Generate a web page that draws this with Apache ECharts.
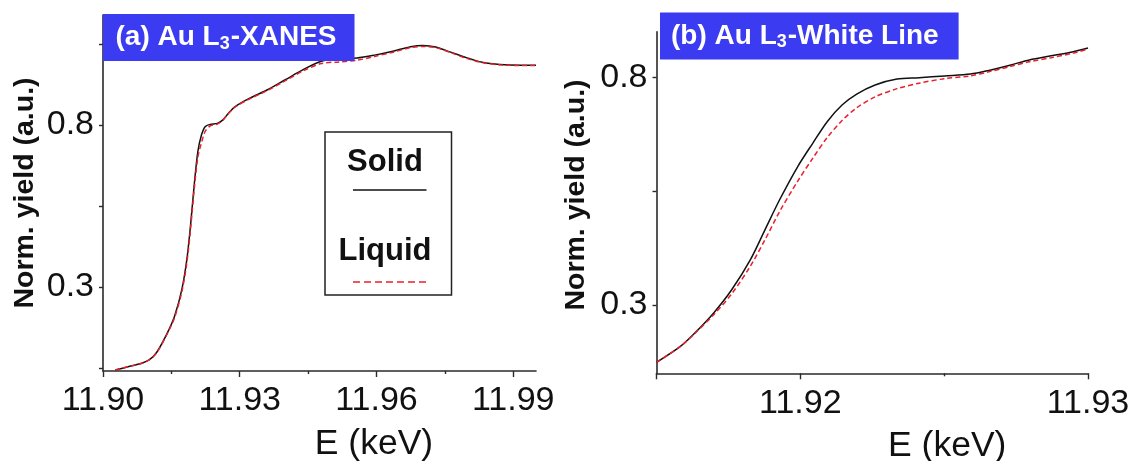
<!DOCTYPE html>
<html>
<head>
<meta charset="utf-8">
<script src="https://cdn.jsdelivr.net/npm/echarts@6/dist/echarts.min.js"></script>
<style>
html,body{margin:0;padding:0;background:#fff;}
#chart{width:1135px;height:461px;}
</style>
</head>
<body>
<div id="chart"></div>
<script>
// ---------- Panel (a): Au L3-XANES ----------
const energyA = [11.9027, 11.9055, 11.9085, 11.9102, 11.9118, 11.9141, 11.9157, 11.9173, 11.9184, 11.9192, 11.9200, 11.9208, 11.9216, 11.9224, 11.9235, 11.9251, 11.9263, 11.9275, 11.9290, 11.9322, 11.9361, 11.9400, 11.9439, 11.9479, 11.9518, 11.9557, 11.9596, 11.9636, 11.9675, 11.9702, 11.9730, 11.9761, 11.9793, 11.9832, 11.9871, 11.9918, 11.9950];
const solidA  = [0.043, 0.053, 0.064, 0.075, 0.098, 0.157, 0.209, 0.292, 0.385, 0.489, 0.613, 0.717, 0.769, 0.795, 0.802, 0.805, 0.816, 0.836, 0.857, 0.883, 0.909, 0.940, 0.971, 0.997, 1.005, 1.007, 1.016, 1.028, 1.042, 1.046, 1.041, 1.026, 1.010, 0.994, 0.987, 0.985, 0.985];
const liquidA = [0.043, 0.053, 0.064, 0.075, 0.097, 0.155, 0.205, 0.285, 0.375, 0.478, 0.600, 0.700, 0.745, 0.780, 0.797, 0.803, 0.815, 0.835, 0.856, 0.881, 0.907, 0.937, 0.967, 0.990, 0.995, 1.000, 1.012, 1.025, 1.039, 1.043, 1.039, 1.025, 1.008, 0.993, 0.986, 0.984, 0.984];

// ---------- Panel (b): Au L3-White Line ----------
const energyB = [11.91500, 11.91583, 11.91634, 11.91698, 11.91762, 11.91826, 11.91877, 11.91928, 11.91991, 11.92043, 11.92094, 11.92145, 11.92196, 11.92260, 11.92336, 11.92413, 11.92502, 11.92591, 11.92655, 11.92732, 11.92796, 11.92872, 11.92949, 11.93000];
const solidB  = [0.174, 0.209, 0.239, 0.282, 0.334, 0.399, 0.465, 0.531, 0.604, 0.655, 0.703, 0.739, 0.763, 0.783, 0.796, 0.799, 0.803, 0.807, 0.815, 0.827, 0.838, 0.847, 0.856, 0.864];
const liquidB = [0.174, 0.209, 0.238, 0.278, 0.325, 0.385, 0.443, 0.505, 0.572, 0.622, 0.668, 0.705, 0.733, 0.757, 0.775, 0.787, 0.797, 0.803, 0.812, 0.824, 0.834, 0.843, 0.853, 0.862];

// ---------- Ticks ----------
const xTicksMajorA = [11.90, 11.93, 11.96, 11.99];
const xTicksMinorA = [11.915, 11.945, 11.975];
const yTicksA = [0.05, 0.3, 0.55, 0.8, 1.05];
const yLabelsA = [0.3, 0.8];
const xTicksMajorB = [11.915, 11.92, 11.93];
const xLabelsB = [11.92, 11.93];
const xTicksMinorB = [11.925];
const yTicksB = [0.3, 0.55, 0.8];
const yLabelsB = [0.3, 0.8];

const seriesNames = ['Solid', 'Liquid'];
const titles = ['(a) Au L{s|3}-XANES', '(b) Au L{s|3}-White Line'];

const FONT = '"Liberation Sans", Arial, Helvetica, sans-serif';
const AXIS_COLOR = '#2a2a2a';
const BLUE = '#3b3bf2';
const RED = '#e8202c';

const pairs = (xs, ys) => xs.map((x, i) => [x, ys[i]]);

const axisLine = { show: true, onZero: false, lineStyle: { color: AXIS_COLOR, width: 1.6 } };

function majorX(grid, min, max, ticks, labels, padLeft) {
  return {
    type: 'value', gridIndex: grid, min: min, max: max, position: 'bottom',
    axisLine: axisLine,
    axisTick: { show: true, customValues: ticks, length: 6, lineStyle: { color: AXIS_COLOR, width: 1.4 } },
    axisLabel: { customValues: labels, formatter: v => v.toFixed(2), fontSize: 34, color: '#111', fontFamily: FONT, margin: 13 },
    splitLine: { show: false },
    name: 'E (keV)', nameLocation: 'middle', nameGap: 55,
    nameTextStyle: { fontSize: 35.5, color: '#111', fontFamily: FONT, padding: [0, 0, 0, padLeft] }
  };
}
function minorX(grid, min, max, ticks) {
  return {
    type: 'value', gridIndex: grid, min: min, max: max, position: 'bottom', offset: 0,
    axisLine: { show: false },
    axisTick: { show: true, customValues: ticks, length: 3, lineStyle: { color: AXIS_COLOR, width: 1.4 } },
    axisLabel: { show: false }, splitLine: { show: false }
  };
}
function yAx(grid, min, max, ticks, labels, gap, padLeft) {
  return {
    type: 'value', gridIndex: grid, min: min, max: max,
    axisLine: axisLine,
    axisTick: { show: true, customValues: ticks, length: 4, lineStyle: { color: AXIS_COLOR, width: 1.4 } },
    axisLabel: { customValues: labels, formatter: v => v.toFixed(1), fontSize: 34, color: '#111', fontFamily: FONT, margin: 9 },
    splitLine: { show: false },
    name: 'Norm. yield (a.u.)', nameLocation: 'middle', nameGap: gap,
    nameTextStyle: { fontSize: 28.5, fontWeight: 'bold', color: '#111', fontFamily: FONT, padding: [0, 0, 0, padLeft] }
  };
}

function titleOf(text, left, top, pad) {
  return {
    text: text, left: left, top: top, padding: pad, backgroundColor: BLUE,
    textStyle: {
      color: '#fff', fontSize: 28, fontWeight: 'bold', fontFamily: FONT, lineHeight: 29,
      rich: { s: { color: '#fff', fontSize: 18, fontWeight: 'bold', fontFamily: FONT, lineHeight: 18, padding: [13, 1, 0, 0] } }
    }
  };
}

function lineSeries(name, xi, yi, data, color, type, width) {
  return {
    name: name, type: 'line', xAxisIndex: xi, yAxisIndex: yi, data: data,
    showSymbol: false, symbol: 'none', smooth: 0.3,
    lineStyle: { color: color, width: width, type: type }, silent: true, animation: false
  };
}

const option = {
  animation: false,
  backgroundColor: '#ffffff',
  textStyle: { fontFamily: FONT },
  title: [
    titleOf(titles[0], 103, 15, [8, 18, 8, 12.5]),
    titleOf(titles[1], 660, 13.5, [8, 20, 8, 11])
  ],
  grid: [
    { left: 103, top: 15, width: 433, height: 356, outerBoundsMode: 'none', containLabel: false },
    { left: 656.5, top: 31.7, width: 431.5, height: 341.6, outerBoundsMode: 'none', containLabel: false }
  ],
  xAxis: [
    majorX(0, 11.90, 11.995, xTicksMajorA, xTicksMajorA, 109),
    minorX(0, 11.90, 11.995, xTicksMinorA),
    majorX(1, 11.915, 11.93, xTicksMajorB, xLabelsB, 150),
    minorX(1, 11.915, 11.93, xTicksMinorB)
  ],
  yAxis: [
    yAx(0, 0.04, 1.14, yTicksA, yLabelsA, 63, 0),
    yAx(1, 0.15, 0.9, yTicksB, yLabelsB, 66, 15)
  ],
  series: [
    lineSeries(seriesNames[0], 0, 0, pairs(energyA, solidA), '#111', 'solid', 1.5),
    lineSeries(seriesNames[1], 0, 0, pairs(energyA, liquidA), RED, [5, 3], 1.5),
    lineSeries(seriesNames[0], 2, 1, pairs(energyB, solidB), '#111', 'solid', 1.5),
    lineSeries(seriesNames[1], 2, 1, pairs(energyB, liquidB), RED, [5, 3], 1.5)
  ],
  graphic: [
    { type: 'rect', shape: { x: 325, y: 132, width: 126.5, height: 163 }, style: { fill: '#fff', stroke: '#222', lineWidth: 1.5 }, z: 10 },
    { type: 'text', x: 385, y: 162, style: { text: seriesNames[0], fill: '#111', font: 'bold 31px ' + FONT, align: 'center', verticalAlign: 'middle' }, z: 11 },
    { type: 'line', shape: { x1: 353, y1: 190, x2: 426.5, y2: 190 }, style: { stroke: '#111', lineWidth: 1.6 }, z: 11 },
    { type: 'text', x: 385, y: 251, style: { text: seriesNames[1], fill: '#111', font: 'bold 31px ' + FONT, align: 'center', verticalAlign: 'middle' }, z: 11 },
    { type: 'line', shape: { x1: 353, y1: 282, x2: 426.5, y2: 282 }, style: { stroke: RED, lineWidth: 1.6, lineDash: [7, 4] }, z: 11 }
  ]
};

const chart = echarts.init(document.getElementById('chart'), null, { renderer: 'canvas' });
chart.setOption(option);
</script>
</body>
</html>
